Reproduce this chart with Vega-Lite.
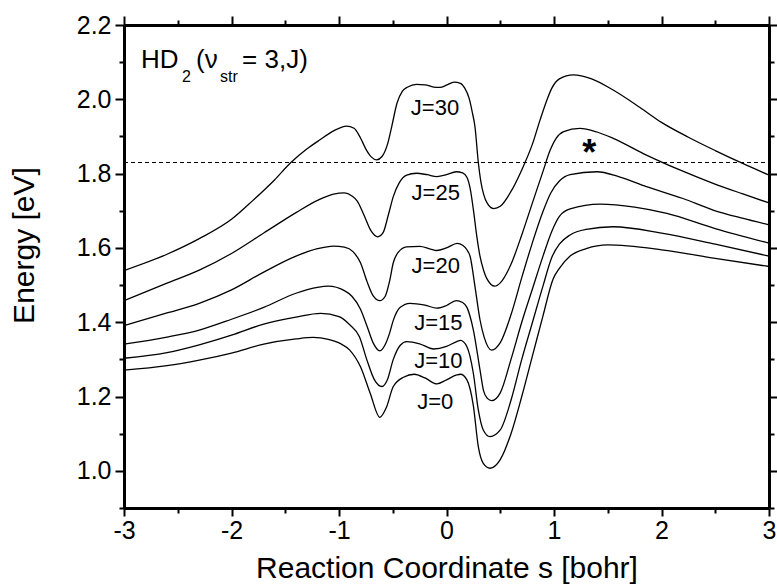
{
  "$schema": "https://vega.github.io/schema/vega-lite/v6.json",
  "width": 645,
  "height": 483,
  "autosize": "none",
  "padding": {"left": 124, "top": 25, "right": 8, "bottom": 79},
  "background": "white",
  "config": {
    "view": {"stroke": null},
    "font": "Liberation Sans",
    "axis": {
      "domainColor": "black", "tickColor": "black", "labelColor": "black", "titleColor": "black",
      "labelFont": "Liberation Sans", "titleFont": "Liberation Sans",
      "labelFontSize": 25, "titleFontSize": 30, "titleFontWeight": "normal",
      "grid": false, "domainWidth": 3, "tickWidth": 2, "labelFlush": false, "labelOverlap": false
    }
  },
  "datasets": {
    "curves": [
      {"J":"30","s":-3.0,"E":1.539},{"J":"30","s":-2.6,"E":1.583},{"J":"30","s":-2.3,"E":1.625},{"J":"30","s":-2.0,"E":1.677},{"J":"30","s":-1.8,"E":1.728},{"J":"30","s":-1.6,"E":1.783},{"J":"30","s":-1.45,"E":1.829},{"J":"30","s":-1.3,"E":1.866},{"J":"30","s":-1.177,"E":1.891},{"J":"30","s":-1.05,"E":1.915},{"J":"30","s":-0.93,"E":1.928},{"J":"30","s":-0.86,"E":1.922},{"J":"30","s":-0.8,"E":1.896},{"J":"30","s":-0.75,"E":1.866},{"J":"30","s":-0.7,"E":1.845},{"J":"30","s":-0.65,"E":1.837},{"J":"30","s":-0.6,"E":1.846},{"J":"30","s":-0.55,"E":1.878},{"J":"30","s":-0.51,"E":1.926},{"J":"30","s":-0.46,"E":1.99},{"J":"30","s":-0.41,"E":2.022},{"J":"30","s":-0.36,"E":2.033},{"J":"30","s":-0.28,"E":2.04},{"J":"30","s":-0.2,"E":2.039},{"J":"30","s":-0.12,"E":2.033},{"J":"30","s":-0.06,"E":2.032},{"J":"30","s":0.0,"E":2.038},{"J":"30","s":0.07,"E":2.046},{"J":"30","s":0.13,"E":2.043},{"J":"30","s":0.17,"E":2.03},{"J":"30","s":0.21,"E":2.003},{"J":"30","s":0.24,"E":1.965},{"J":"30","s":0.265,"E":1.926},{"J":"30","s":0.296,"E":1.83},{"J":"30","s":0.32,"E":1.778},{"J":"30","s":0.345,"E":1.745},{"J":"30","s":0.38,"E":1.72},{"J":"30","s":0.44,"E":1.706},{"J":"30","s":0.5,"E":1.712},{"J":"30","s":0.6,"E":1.752},{"J":"30","s":0.7,"E":1.81},{"J":"30","s":0.8,"E":1.88},{"J":"30","s":0.87,"E":1.944},{"J":"30","s":0.93,"E":1.995},{"J":"30","s":0.98,"E":2.03},{"J":"30","s":1.05,"E":2.055},{"J":"30","s":1.18,"E":2.066},{"J":"30","s":1.35,"E":2.055},{"J":"30","s":1.55,"E":2.025},{"J":"30","s":1.8,"E":1.978},{"J":"30","s":2.0,"E":1.938},{"J":"30","s":2.25,"E":1.898},{"J":"30","s":2.5,"E":1.862},{"J":"30","s":2.75,"E":1.828},{"J":"30","s":3.0,"E":1.796},

      {"J":"25","s":-3.0,"E":1.458},{"J":"25","s":-2.6,"E":1.505},{"J":"25","s":-2.3,"E":1.54},{"J":"25","s":-2.0,"E":1.585},{"J":"25","s":-1.7,"E":1.64},{"J":"25","s":-1.4,"E":1.695},{"J":"25","s":-1.2,"E":1.728},{"J":"25","s":-1.05,"E":1.745},{"J":"25","s":-0.95,"E":1.748},{"J":"25","s":-0.88,"E":1.74},{"J":"25","s":-0.83,"E":1.726},{"J":"25","s":-0.77,"E":1.69},{"J":"25","s":-0.7,"E":1.645},{"J":"25","s":-0.64,"E":1.63},{"J":"25","s":-0.59,"E":1.641},{"J":"25","s":-0.54,"E":1.69},{"J":"25","s":-0.495,"E":1.738},{"J":"25","s":-0.44,"E":1.775},{"J":"25","s":-0.37,"E":1.796},{"J":"25","s":-0.28,"E":1.801},{"J":"25","s":-0.18,"E":1.797},{"J":"25","s":-0.09,"E":1.792},{"J":"25","s":0.0,"E":1.797},{"J":"25","s":0.09,"E":1.805},{"J":"25","s":0.15,"E":1.802},{"J":"25","s":0.19,"E":1.79},{"J":"25","s":0.22,"E":1.76},{"J":"25","s":0.25,"E":1.703},{"J":"25","s":0.28,"E":1.635},{"J":"25","s":0.312,"E":1.577},{"J":"25","s":0.345,"E":1.54},{"J":"25","s":0.374,"E":1.518},{"J":"25","s":0.45,"E":1.497},{"J":"25","s":0.5,"E":1.506},{"J":"25","s":0.6,"E":1.556},{"J":"25","s":0.7,"E":1.635},{"J":"25","s":0.8,"E":1.722},{"J":"25","s":0.9,"E":1.808},{"J":"25","s":0.96,"E":1.86},{"J":"25","s":1.02,"E":1.895},{"J":"25","s":1.09,"E":1.913},{"J":"25","s":1.24,"E":1.922},{"J":"25","s":1.4,"E":1.912},{"J":"25","s":1.55,"E":1.895},{"J":"25","s":1.86,"E":1.85},{"J":"25","s":2.17,"E":1.81},{"J":"25","s":2.48,"E":1.774},{"J":"25","s":2.75,"E":1.746},{"J":"25","s":3.0,"E":1.721},

      {"J":"20","s":-3.0,"E":1.391},{"J":"20","s":-2.6,"E":1.425},{"J":"20","s":-2.3,"E":1.451},{"J":"20","s":-2.0,"E":1.487},{"J":"20","s":-1.7,"E":1.535},{"J":"20","s":-1.4,"E":1.578},{"J":"20","s":-1.2,"E":1.598},{"J":"20","s":-1.05,"E":1.605},{"J":"20","s":-0.95,"E":1.602},{"J":"20","s":-0.87,"E":1.59},{"J":"20","s":-0.8,"E":1.56},{"J":"20","s":-0.74,"E":1.51},{"J":"20","s":-0.68,"E":1.47},{"J":"20","s":-0.62,"E":1.458},{"J":"20","s":-0.57,"E":1.47},{"J":"20","s":-0.53,"E":1.51},{"J":"20","s":-0.495,"E":1.56},{"J":"20","s":-0.45,"E":1.588},{"J":"20","s":-0.37,"E":1.603},{"J":"20","s":-0.25,"E":1.604},{"J":"20","s":-0.15,"E":1.597},{"J":"20","s":-0.09,"E":1.593},{"J":"20","s":0.0,"E":1.6},{"J":"20","s":0.1,"E":1.612},{"J":"20","s":0.15,"E":1.607},{"J":"20","s":0.19,"E":1.595},{"J":"20","s":0.22,"E":1.577},{"J":"20","s":0.265,"E":1.496},{"J":"20","s":0.312,"E":1.406},{"J":"20","s":0.35,"E":1.36},{"J":"20","s":0.42,"E":1.325},{"J":"20","s":0.5,"E":1.345},{"J":"20","s":0.6,"E":1.42},{"J":"20","s":0.7,"E":1.52},{"J":"20","s":0.8,"E":1.615},{"J":"20","s":0.9,"E":1.7},{"J":"20","s":0.97,"E":1.748},{"J":"20","s":1.05,"E":1.78},{"J":"20","s":1.15,"E":1.797},{"J":"20","s":1.4,"E":1.805},{"J":"20","s":1.6,"E":1.792},{"J":"20","s":1.86,"E":1.765},{"J":"20","s":2.2,"E":1.733},{"J":"20","s":2.48,"E":1.702},{"J":"20","s":2.75,"E":1.68},{"J":"20","s":3.0,"E":1.662},

      {"J":"15","s":-3.0,"E":1.341},{"J":"15","s":-2.6,"E":1.36},{"J":"15","s":-2.3,"E":1.379},{"J":"15","s":-2.0,"E":1.408},{"J":"15","s":-1.7,"E":1.44},{"J":"15","s":-1.4,"E":1.478},{"J":"15","s":-1.2,"E":1.494},{"J":"15","s":-1.1,"E":1.497},{"J":"15","s":-0.95,"E":1.485},{"J":"15","s":-0.88,"E":1.47},{"J":"15","s":-0.8,"E":1.435},{"J":"15","s":-0.74,"E":1.39},{"J":"15","s":-0.68,"E":1.343},{"J":"15","s":-0.62,"E":1.323},{"J":"15","s":-0.57,"E":1.34},{"J":"15","s":-0.53,"E":1.37},{"J":"15","s":-0.495,"E":1.405},{"J":"15","s":-0.43,"E":1.44},{"J":"15","s":-0.34,"E":1.451},{"J":"15","s":-0.2,"E":1.446},{"J":"15","s":-0.09,"E":1.438},{"J":"15","s":0.0,"E":1.445},{"J":"15","s":0.09,"E":1.458},{"J":"15","s":0.15,"E":1.453},{"J":"15","s":0.19,"E":1.44},{"J":"15","s":0.25,"E":1.379},{"J":"15","s":0.312,"E":1.271},{"J":"15","s":0.345,"E":1.215},{"J":"15","s":0.38,"E":1.195},{"J":"15","s":0.42,"E":1.189},{"J":"15","s":0.5,"E":1.21},{"J":"15","s":0.6,"E":1.3},{"J":"15","s":0.7,"E":1.4},{"J":"15","s":0.8,"E":1.49},{"J":"15","s":0.9,"E":1.58},{"J":"15","s":0.98,"E":1.645},{"J":"15","s":1.05,"E":1.685},{"J":"15","s":1.15,"E":1.705},{"J":"15","s":1.43,"E":1.718},{"J":"15","s":1.75,"E":1.71},{"J":"15","s":2.05,"E":1.693},{"J":"15","s":2.5,"E":1.652},{"J":"15","s":3.0,"E":1.613},

      {"J":"10","s":-3.0,"E":1.303},{"J":"10","s":-2.6,"E":1.318},{"J":"10","s":-2.3,"E":1.339},{"J":"10","s":-2.0,"E":1.365},{"J":"10","s":-1.7,"E":1.395},{"J":"10","s":-1.4,"E":1.414},{"J":"10","s":-1.17,"E":1.424},{"J":"10","s":-1.0,"E":1.415},{"J":"10","s":-0.9,"E":1.393},{"J":"10","s":-0.81,"E":1.361},{"J":"10","s":-0.74,"E":1.298},{"J":"10","s":-0.67,"E":1.245},{"J":"10","s":-0.6,"E":1.227},{"J":"10","s":-0.55,"E":1.245},{"J":"10","s":-0.495,"E":1.3},{"J":"10","s":-0.43,"E":1.338},{"J":"10","s":-0.37,"E":1.348},{"J":"10","s":-0.25,"E":1.342},{"J":"10","s":-0.12,"E":1.328},{"J":"10","s":0.0,"E":1.335},{"J":"10","s":0.095,"E":1.348},{"J":"10","s":0.13,"E":1.351},{"J":"10","s":0.19,"E":1.334},{"J":"10","s":0.25,"E":1.262},{"J":"10","s":0.296,"E":1.164},{"J":"10","s":0.342,"E":1.11},{"J":"10","s":0.405,"E":1.092},{"J":"10","s":0.5,"E":1.11},{"J":"10","s":0.6,"E":1.19},{"J":"10","s":0.7,"E":1.3},{"J":"10","s":0.8,"E":1.4},{"J":"10","s":0.9,"E":1.5},{"J":"10","s":0.98,"E":1.575},{"J":"10","s":1.05,"E":1.61},{"J":"10","s":1.15,"E":1.635},{"J":"10","s":1.3,"E":1.65},{"J":"10","s":1.55,"E":1.657},{"J":"10","s":2.0,"E":1.64},{"J":"10","s":2.5,"E":1.61},{"J":"10","s":3.0,"E":1.578},

      {"J":"0","s":-3.0,"E":1.271},{"J":"0","s":-2.6,"E":1.283},{"J":"0","s":-2.3,"E":1.298},{"J":"0","s":-2.0,"E":1.317},{"J":"0","s":-1.7,"E":1.341},{"J":"0","s":-1.4,"E":1.355},{"J":"0","s":-1.24,"E":1.359},{"J":"0","s":-1.1,"E":1.354},{"J":"0","s":-0.99,"E":1.343},{"J":"0","s":-0.9,"E":1.325},{"J":"0","s":-0.8,"E":1.28},{"J":"0","s":-0.71,"E":1.209},{"J":"0","s":-0.62,"E":1.144},{"J":"0","s":-0.56,"E":1.17},{"J":"0","s":-0.495,"E":1.227},{"J":"0","s":-0.4,"E":1.252},{"J":"0","s":-0.3,"E":1.26},{"J":"0","s":-0.2,"E":1.25},{"J":"0","s":-0.09,"E":1.234},{"J":"0","s":0.0,"E":1.245},{"J":"0","s":0.095,"E":1.258},{"J":"0","s":0.13,"E":1.26},{"J":"0","s":0.19,"E":1.245},{"J":"0","s":0.25,"E":1.175},{"J":"0","s":0.296,"E":1.065},{"J":"0","s":0.342,"E":1.02},{"J":"0","s":0.405,"E":1.007},{"J":"0","s":0.5,"E":1.03},{"J":"0","s":0.6,"E":1.1},{"J":"0","s":0.7,"E":1.2},{"J":"0","s":0.8,"E":1.31},{"J":"0","s":0.9,"E":1.42},{"J":"0","s":0.99,"E":1.515},{"J":"0","s":1.05,"E":1.545},{"J":"0","s":1.15,"E":1.578},{"J":"0","s":1.3,"E":1.598},{"J":"0","s":1.5,"E":1.608},{"J":"0","s":2.0,"E":1.595},{"J":"0","s":2.5,"E":1.572},{"J":"0","s":3.0,"E":1.55}
    ],
    "dash": [{"s": -3, "E": 1.83}, {"s": 3, "E": 1.83}],
    "labels": [
      {"t": "J=30", "s": -0.107, "E": 1.976},
      {"t": "J=25", "s": -0.1, "E": 1.747},
      {"t": "J=20", "s": -0.1, "E": 1.552},
      {"t": "J=15", "s": -0.076, "E": 1.399},
      {"t": "J=10", "s": -0.076, "E": 1.296},
      {"t": "J=0", "s": -0.104, "E": 1.185}
    ],
    "anno": [
      {"t": "HD", "s": -2.843, "E": 2.0836},
      {"t": "(", "s": -2.33, "E": 2.0836},
      {"t": "ν", "s": -2.25, "E": 2.0836},
      {"t": "= 3,J)", "s": -1.902, "E": 2.0836}
    ],
    "subs": [
      {"t": "2", "s": -2.46, "E": 2.0475},
      {"t": "str", "s": -2.107, "E": 2.0475}
    ],
    "star": [{"t": "*", "s": 1.328, "E": 1.823}]
  },
  "resolve": {"axis": {"x": "independent", "y": "independent"}},
  "layer": [
    {
      "data": {"name": "curves"},
      "mark": {"type": "line", "color": "black", "strokeWidth": 1.3, "interpolate": "monotone"},
      "encoding": {
        "x": {"field": "s", "type": "quantitative", "scale": {"domain": [-3, 3], "nice": false, "zero": false},
          "axis": {"orient": "bottom", "values": [-3, -2, -1, 0, 1, 2, 3], "labelExpr": "'' + datum.value", "tickSize": 8, "tickWidth": 2, "domainWidth": 3, "labelPadding": 2,
            "title": "Reaction Coordinate s [bohr]", "titleBaseline": "alphabetic", "titleY": 69}},
        "y": {"field": "E", "type": "quantitative", "scale": {"domain": [0.9, 2.2], "nice": false, "zero": false},
          "axis": {"orient": "left", "values": [1.0, 1.2, 1.4, 1.6, 1.8, 2.0, 2.2], "labelExpr": "format(datum.value, '.1f')", "tickSize": 9, "tickWidth": 2, "domainWidth": 3, "labelPadding": 4,
            "title": "Energy [eV]", "titleBaseline": "alphabetic", "titleX": -91, "titleY": 220, "titleAngle": -90}},
        "detail": {"field": "J", "type": "nominal"}
      }
    },
    {
      "data": {"name": "dash"},
      "mark": {"type": "line", "color": "black", "strokeWidth": 1.1, "strokeDash": [4, 3]},
      "encoding": {
        "x": {"field": "s", "type": "quantitative", "scale": {"domain": [-3, 3], "nice": false, "zero": false},
          "axis": {"orient": "top", "values": [-3, -2, -1, 0, 1, 2, 3], "labels": false, "tickSize": 9, "tickWidth": 2, "domainWidth": 3, "title": null}},
        "y": {"field": "E", "type": "quantitative", "scale": {"domain": [0.9, 2.2], "nice": false, "zero": false},
          "axis": {"orient": "right", "values": [1.0, 1.2, 1.4, 1.6, 1.8, 2.0, 2.2], "labels": false, "tickSize": 8, "tickWidth": 2, "domainWidth": 3, "title": null}}
      }
    },
    {
      "data": {"name": "labels"},
      "mark": {"type": "text", "font": "Liberation Sans", "fontSize": 22, "align": "center", "baseline": "middle", "color": "black"},
      "encoding": {
        "x": {"field": "s", "type": "quantitative", "scale": {"domain": [-3, 3], "nice": false, "zero": false},
          "axis": {"orient": "bottom", "values": [-2.5, -1.5, -0.5, 0.5, 1.5, 2.5], "labels": false, "domain": false, "tickSize": 5, "tickWidth": 2, "title": null}},
        "y": {"field": "E", "type": "quantitative", "scale": {"domain": [0.9, 2.2], "nice": false, "zero": false},
          "axis": {"orient": "left", "values": [0.9, 1.1, 1.3, 1.5, 1.7, 1.9, 2.1], "labels": false, "domain": false, "tickSize": 5, "tickWidth": 2, "title": null}},
        "text": {"field": "t"}
      }
    },
    {
      "data": {"name": "anno"},
      "mark": {"type": "text", "font": "Liberation Sans", "fontSize": 26, "align": "left", "baseline": "alphabetic", "color": "black"},
      "encoding": {
        "x": {"field": "s", "type": "quantitative", "scale": {"domain": [-3, 3], "nice": false, "zero": false},
          "axis": {"orient": "top", "values": [-2.5, -1.5, -0.5, 0.5, 1.5, 2.5], "labels": false, "domain": false, "tickSize": 5, "tickWidth": 2, "title": null}},
        "y": {"field": "E", "type": "quantitative", "scale": {"domain": [0.9, 2.2], "nice": false, "zero": false},
          "axis": {"orient": "right", "values": [0.9, 1.1, 1.3, 1.5, 1.7, 1.9, 2.1], "labels": false, "domain": false, "tickSize": 5, "tickWidth": 2, "title": null}},
        "text": {"field": "t"}
      }
    },
    {
      "data": {"name": "subs"},
      "mark": {"type": "text", "font": "Liberation Sans", "fontSize": 16, "align": "left", "baseline": "alphabetic", "color": "black"},
      "encoding": {
        "x": {"field": "s", "type": "quantitative", "scale": {"domain": [-3, 3], "nice": false, "zero": false}, "axis": null},
        "y": {"field": "E", "type": "quantitative", "scale": {"domain": [0.9, 2.2], "nice": false, "zero": false}, "axis": null},
        "text": {"field": "t"}
      }
    },
    {
      "data": {"name": "star"},
      "mark": {"type": "text", "font": "Liberation Sans", "fontSize": 36, "fontWeight": "bold", "align": "center", "baseline": "alphabetic", "color": "black"},
      "encoding": {
        "x": {"field": "s", "type": "quantitative", "scale": {"domain": [-3, 3], "nice": false, "zero": false}, "axis": null},
        "y": {"field": "E", "type": "quantitative", "scale": {"domain": [0.9, 2.2], "nice": false, "zero": false}, "axis": null},
        "text": {"field": "t"}
      }
    }
  ]
}
